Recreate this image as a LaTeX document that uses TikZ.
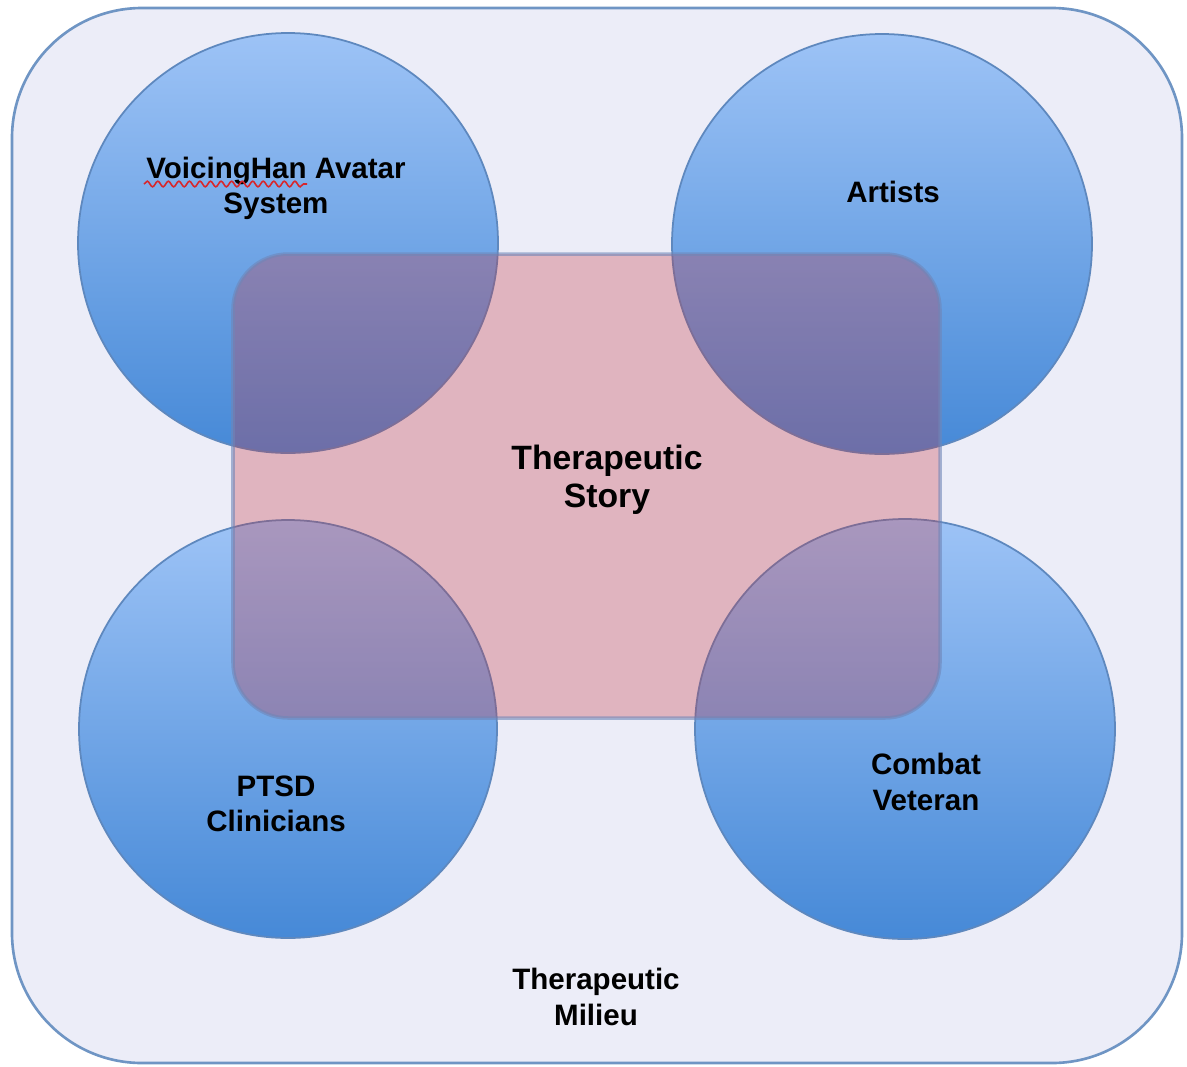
\documentclass[tikz,border=0pt]{standalone}
\usepackage{xcolor}
\usepackage{fontspec}
\setmainfont{Liberation Sans}
\usepackage{tikz}
\usetikzlibrary{decorations.pathmorphing}

\definecolor{milieufill}{HTML}{ECEDF8}
\definecolor{milieuline}{HTML}{6F95C4}
\definecolor{bubbletop}{HTML}{9DC3F6}
\definecolor{bubblebot}{HTML}{4689D7}
\definecolor{bubbleline}{HTML}{5E88BE}
\definecolor{storyfill}{HTML}{C6333D}
\definecolor{storyline}{HTML}{6F86B8}
\definecolor{squiggle}{HTML}{D8262A}

\begin{document}
\begin{tikzpicture}[x=0.02cm,y=-0.02cm]
                \tikzstyle{every node}+=[inner sep=0pt,align=center,font=\bfseries\fontsize{16.8}{20}\selectfont]
                \tikzstyle{bubble}=[draw=bubbleline,line width=1pt,top color=bubbletop,bottom color=bubblebot]
                \useasboundingbox (0,0) rectangle (1187,1066);
                % outer milieu
                \draw [milieuline,fill=milieufill,line width=1.5pt,rounded corners=2.6cm] (12,8) rectangle (1182,1063);
                % the four groups
                \draw [bubble] (288,243) circle (210);
                \draw [bubble] (882,244) circle (210);
                \draw [bubble] (288,729) circle (209);
                \draw [bubble] (905,729) circle (210);
                % story sits over them
                \draw [storyline,draw opacity=0.6,line width=2pt,fill=storyfill,fill opacity=0.3,rounded corners=1.1cm] (233,254) rectangle (940,718);
                \node (voicing) at (276,188) {VoicingHan Avatar\\System};
                \draw [squiggle,line width=0.9pt,decorate,decoration={snake,amplitude=1.6,segment length=6}] (144,184) -- (307,184);
                \node (artists) at (893,192) {Artists};
                \node (story) at (607,480) [font=\bfseries\fontsize{19.2}{21.5}\selectfont] {Therapeutic\\Story};
                \node (ptsd) at (276,804) {PTSD\\Clinicians};
                \node (veteran) at (926,782) {Combat\\Veteran};
                \node (milieu) at (596,997) {Therapeutic\\Milieu};
            \end{tikzpicture}
\end{document}
